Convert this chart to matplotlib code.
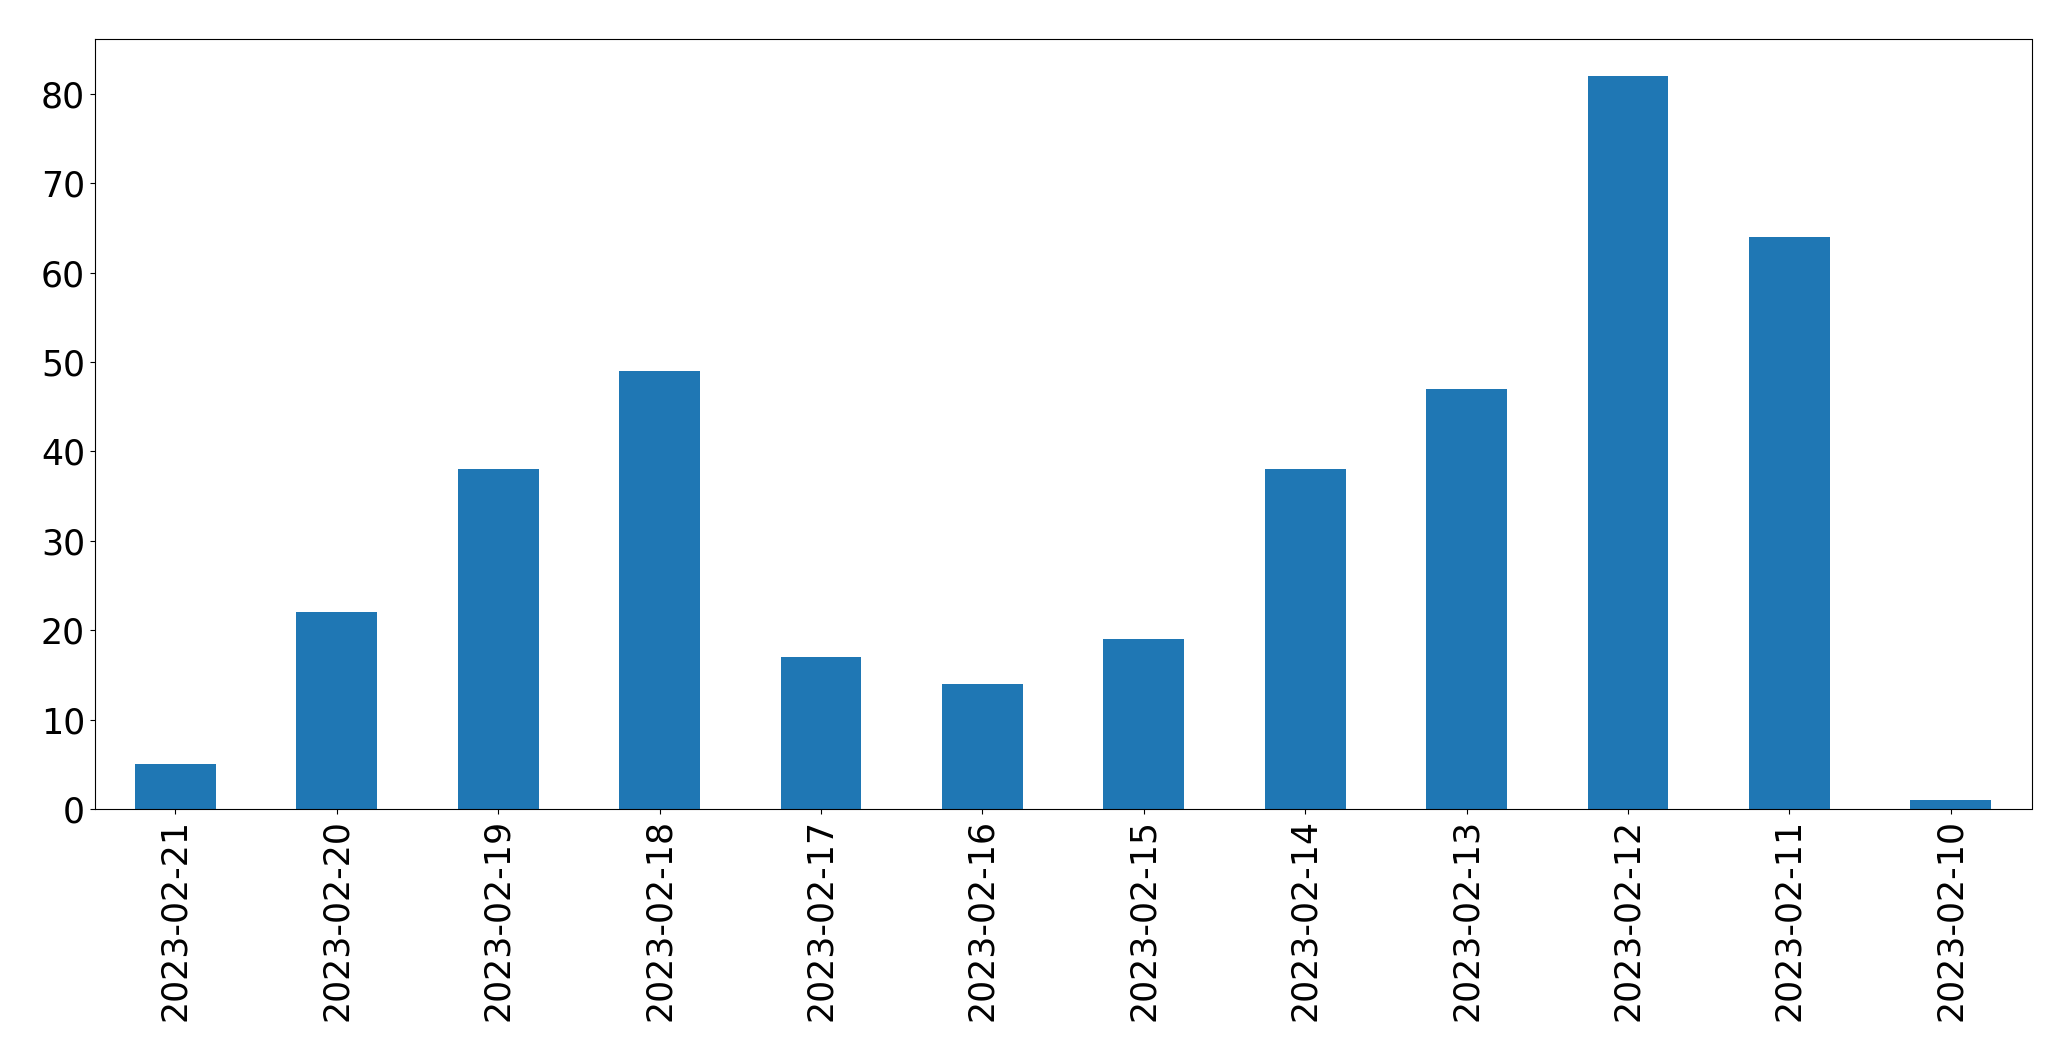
import pandas as pd
import matplotlib
matplotlib.use("Agg")
import matplotlib.pyplot as plt

dates = ["2023-02-21", "2023-02-20", "2023-02-19", "2023-02-18", "2023-02-17", "2023-02-16",
         "2023-02-15", "2023-02-14", "2023-02-13", "2023-02-12", "2023-02-11", "2023-02-10"]
counts = [5, 22, 38, 49, 17, 14, 19, 38, 47, 82, 64, 1]

s = pd.Series(counts, index=dates)

fig, ax = plt.subplots(figsize=(20.71, 10.61), dpi=100)
s.plot(kind="bar", ax=ax, color="#1f77b4")
ax.tick_params(axis="both", labelsize=25)
fig.subplots_adjust(left=94.7 / 2071, right=2031.5 / 2071, top=1 - 39.3 / 1061, bottom=1 - 809 / 1061)
fig.savefig("out.png", dpi=100)
plt.close()
